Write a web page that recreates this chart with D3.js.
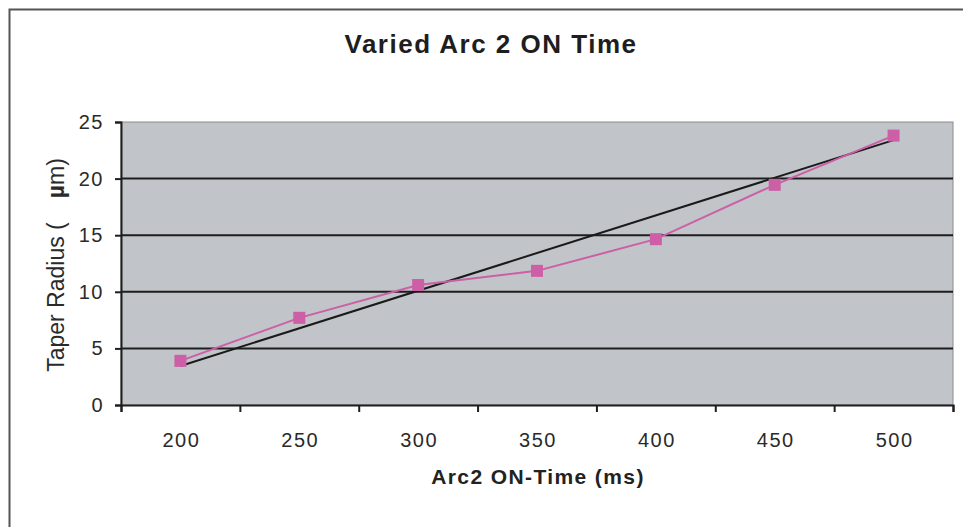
<!DOCTYPE html>
<html>
<head>
<meta charset="utf-8">
<script src="https://cdn.jsdelivr.net/npm/d3@7"></script>
<style>
  body { margin: 0; background: #fff; }
  svg { display: block; font-family: Arial, "Liberation Sans", sans-serif; }
</style>
</head>
<body>
<svg id="svg" width="963" height="527"></svg>
<script>
// data
const categories = ["200", "250", "300", "350", "400", "450", "500"];
const radius = [3.9, 7.7, 10.6, 11.85, 14.65, 19.45, 23.8];
const trendEnds = [3.45, 23.4];   // trendline at first / last category
const yTicks = [0, 5, 10, 15, 20, 25];

const svg = d3.select("#svg");
const plotL = 121, plotR = 953, plotT = 122, plotB = 405;
const font = "Arial, 'Liberation Sans', sans-serif";

// outer frame (runs off the bottom/right of the picture)
svg.append("rect")
  .attr("x", 9.5).attr("y", 9.5)
  .attr("width", 1000).attr("height", 600)
  .attr("fill", "#fff")
  .attr("stroke", "#555").attr("stroke-width", 2);

const x = d3.scaleBand().domain(categories).range([plotL, plotR]);
const xEdge = d3.scaleLinear().domain([0, categories.length]).range([plotL, plotR]);
const y = d3.scaleLinear().domain([0, 25]).range([plotB, plotT]);

// plot area
svg.append("rect")
  .attr("x", plotL).attr("y", plotT)
  .attr("width", plotR - plotL).attr("height", plotB - plotT)
  .attr("fill", "#c1c4c8")
  .attr("stroke", "#8c8c8c").attr("stroke-width", 1);

// gridlines
svg.append("g")
  .selectAll("line")
  .data(yTicks.filter(d => d > 0 && d < 25))
  .enter().append("line")
  .attr("x1", plotL).attr("x2", plotR)
  .attr("y1", d => y(d)).attr("y2", d => y(d))
  .attr("stroke", "#1e1e1e").attr("stroke-width", 2);

// y axis
const yAxis = svg.append("g")
  .attr("transform", `translate(${plotL},0)`)
  .call(d3.axisLeft(y).tickValues(yTicks).tickSize(6).tickPadding(11));
yAxis.selectAll("text").attr("font-size", 20).attr("fill", "#2a2a2a")
  .attr("letter-spacing", 1.5).attr("font-family", font);

// x axis: ticks between categories, labels centred
svg.append("g")
  .attr("transform", `translate(0,${plotB})`)
  .call(d3.axisBottom(xEdge).ticks(categories.length).tickFormat("").tickSize(7));
const xLabels = svg.append("g")
  .attr("transform", `translate(0,${plotB})`)
  .call(d3.axisBottom(x).tickSize(0).tickPadding(28));
xLabels.select(".domain").remove();
xLabels.selectAll("text").attr("font-size", 20).attr("fill", "#2a2a2a")
  .attr("letter-spacing", 1.5).attr("dx", 1).attr("font-family", font);

svg.selectAll(".domain, .tick line").attr("stroke", "#1e1e1e").attr("stroke-width", 2);

// trendline
svg.append("line")
  .attr("x1", x(categories[0]) + x.bandwidth() / 2)
  .attr("x2", x(categories[categories.length - 1]) + x.bandwidth() / 2)
  .attr("y1", y(trendEnds[0])).attr("y2", y(trendEnds[1]))
  .attr("stroke", "#1a1a1a").attr("stroke-width", 2);

// data series
const line = d3.line()
  .x((d, i) => x(categories[i]) + x.bandwidth() / 2)
  .y(d => y(d));
svg.append("path")
  .datum(radius)
  .attr("d", line)
  .attr("fill", "none")
  .attr("stroke", "#cc5fa6").attr("stroke-width", 2);

svg.append("g")
  .selectAll("rect")
  .data(radius)
  .enter().append("rect")
  .attr("x", (d, i) => x(categories[i]) + x.bandwidth() / 2 - 6)
  .attr("y", d => y(d) - 6)
  .attr("width", 12).attr("height", 12)
  .attr("fill", "#cc5fa6");

// titles
svg.append("text")
  .attr("x", 491).attr("y", 53)
  .attr("text-anchor", "middle")
  .attr("font-size", 26).attr("font-weight", "bold")
  .attr("fill", "#1e1e1e")
  .attr("letter-spacing", 1.5)
  .text("Varied Arc 2 ON Time");

svg.append("text")
  .attr("x", 538).attr("y", 484)
  .attr("text-anchor", "middle")
  .attr("font-size", 21).attr("font-weight", "bold")
  .attr("fill", "#222")
  .attr("letter-spacing", 1.4)
  .text("Arc2 ON-Time (ms)");

const yTitle = svg.append("text")
  .attr("transform", "translate(64,265) rotate(-90)")
  .attr("text-anchor", "middle")
  .attr("font-size", 23)
  .attr("fill", "#2a2a2a");
yTitle.append("tspan").text("Taper Radius (");
yTitle.append("tspan").attr("dx", 24).attr("font-weight", "bold").text("\u00b5");
yTitle.append("tspan").text("m)");
</script>
</body>
</html>
